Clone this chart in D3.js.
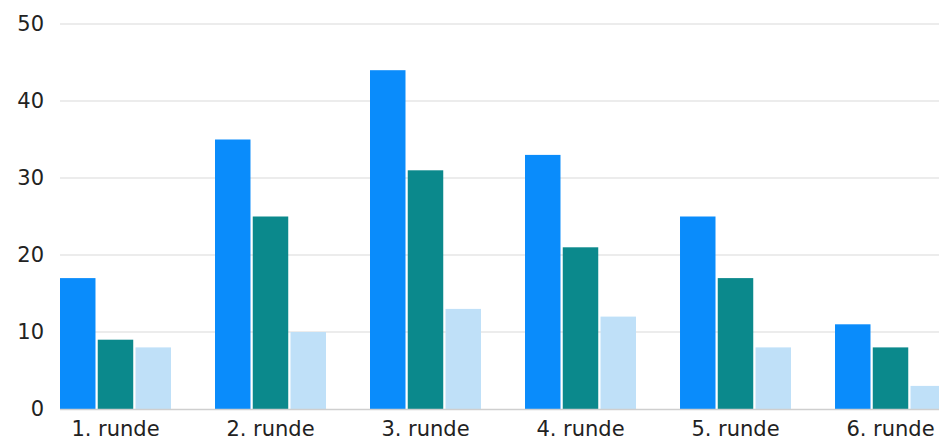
<!DOCTYPE html>
<html>
<head>
<meta charset="utf-8">
<script src="https://cdn.jsdelivr.net/npm/d3@7/dist/d3.min.js"></script>
<style>
  html, body { margin: 0; padding: 0; background: #fff; overflow: hidden; }
  svg { display: block; font-family: "DejaVu Sans", sans-serif; }
</style>
</head>
<body>
<svg id="chart" width="939" height="443"></svg>
<script>
const categories = ["1. runde", "2. runde", "3. runde", "4. runde", "5. runde", "6. runde"];
const seriesNames = ["A", "B", "C"];
const seriesA = [17, 35, 44, 33, 25, 11];
const seriesB = [9, 25, 31, 21, 17, 8];
const seriesC = [8, 10, 13, 12, 8, 3];
const yTicks = [0, 10, 20, 30, 40, 50];
const colors = ["#0a8cfb", "#0b898c", "#bfe0f8"];

(function () {
const svg = d3.select("#chart");
const W = 939, H = 443;
const mLeft = 60, mBottom = 409, mTop = 24;

const y = d3.scaleLinear().domain([0, 50]).range([mBottom, mTop]);
const x = d3.scaleBand().domain(categories).range([mLeft, 946]).paddingInner(0.284).paddingOuter(0);
const xi = d3.scaleBand().domain(seriesNames).range([0, x.bandwidth()]).paddingInner(0.06);

svg.append("g").selectAll("line").data(yTicks.filter(d => d > 0)).join("line")
  .attr("x1", mLeft).attr("x2", W)
  .attr("y1", d => y(d)).attr("y2", d => y(d))
  .attr("stroke", "#e6e6e6").attr("stroke-width", 1.5);

svg.append("g").selectAll("text").data(yTicks).join("text")
  .attr("x", 44).attr("y", d => y(d))
  .attr("dy", "0.35em")
  .attr("text-anchor", "end")
  .attr("font-size", 21)
  .attr("fill", "#222")
  .text(d => d);

const data = categories.map((c, i) => ({ cat: c, vals: [seriesA[i], seriesB[i], seriesC[i]] }));

const g = svg.append("g").selectAll("g").data(data).join("g")
  .attr("transform", d => `translate(${x(d.cat)},0)`);
g.selectAll("rect").data(d => d.vals.map((v, j) => ({ s: seriesNames[j], v, j }))).join("rect")
  .attr("x", d => xi(d.s))
  .attr("width", xi.bandwidth())
  .attr("y", d => y(d.v))
  .attr("height", d => y(0) - y(d.v))
  .attr("fill", d => colors[d.j]);

svg.append("line").attr("x1", mLeft).attr("x2", W)
  .attr("y1", mBottom + 0.5).attr("y2", mBottom + 0.5)
  .attr("stroke", "#cfcfcf").attr("stroke-width", 1.5);

svg.append("g").selectAll("text").data(categories).join("text")
  .attr("x", d => x(d) + x.bandwidth() / 2)
  .attr("y", 436)
  .attr("text-anchor", "middle")
  .attr("font-size", 21)
  .attr("fill", "#222")
  .text(d => d);
})();
</script>
</body>
</html>
